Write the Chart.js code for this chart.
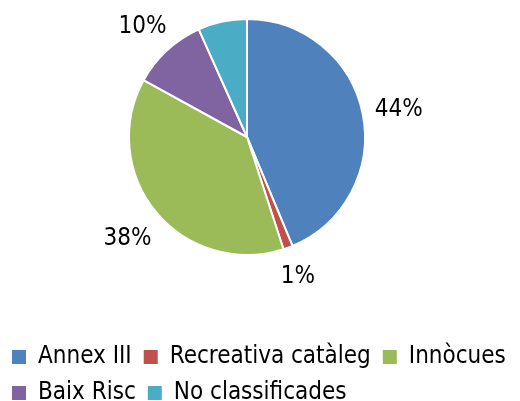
<!DOCTYPE html>
<html>
<head>
<meta charset="utf-8">
<script src="https://cdn.jsdelivr.net/npm/chart.js@4.4.1/dist/chart.umd.min.js"></script>
<style>
  html, body { margin: 0; padding: 0; background: #fff; }
  #wrap { width: 520px; height: 401px; }
</style>
</head>
<body>
<div id="wrap"><canvas id="chart"></canvas></div>
<script>
// categories and shares (percent)
const categories = ['Annex III', 'Recreativa catàleg', 'Innòcues', 'Baix Risc', 'No classificades'];
const shares = [43.7, 1.3, 38.0, 10.3, 6.7];
const sliceLabels = ['44%', '1%', '38%', '10%', ''];
const colors = ['#4F81BD', '#C0504D', '#9BBB59', '#8064A2', '#4BACC6'];

const FONT = 'DejaVu Sans Condensed';

// draws percentage labels just outside each slice
const outsideLabels = {
    id: 'outsideLabels',
    afterDatasetsDraw(chart) {
        const ctx = chart.ctx;
        const meta = chart.getDatasetMeta(0);
        ctx.save();
        ctx.font = `24px "${FONT}"`;
        ctx.fillStyle = '#000';
        ctx.textAlign = 'center';
        ctx.textBaseline = 'middle';
        meta.data.forEach((arc, i) => {
            const txt = sliceLabels[i];
            if (!txt) return;
            const mid = (arc.startAngle + arc.endAngle) / 2;
            const dx = Math.cos(mid), dy = Math.sin(mid);
            const halfW = ctx.measureText(txt).width / 2;
            const halfH = 12;
            const dist = arc.outerRadius + 11 + halfW * Math.abs(dx) + halfH * Math.abs(dy);
            ctx.fillText(txt, arc.x + dx * dist, arc.y + dy * dist + 3);
        });
        ctx.restore();
    }
};

// pie sits in its own box above the legend, a bit left of centre
const placePie = {
    id: 'placePie',
    afterLayout(chart) {
        const ca = chart.chartArea;
        ca.top = 18;
        ca.bottom = 256;
        ca.left = 0;
        ca.right = 494;
        ca.width = ca.right - ca.left;
        ca.height = ca.bottom - ca.top;
    }
};

new Chart(document.getElementById('chart'), {
    type: 'pie',
    data: {
        labels: categories,
        datasets: [{
            data: shares,
            backgroundColor: colors,
            borderColor: '#fff',
            borderWidth: 2
        }]
    },
    options: {
        responsive: true,
        maintainAspectRatio: false,
        animation: false,
        layout: { padding: { top: 0, bottom: -14, left: 0, right: 0 } },
        plugins: {
            tooltip: { enabled: false },
            legend: {
                position: 'bottom',
                align: 'start',
                labels: {
                    boxWidth: 14,
                    boxHeight: 14,
                    padding: 12,
                    color: '#000',
                    font: { family: FONT, size: 24 },
                    generateLabels(chart) {
                        const items = Chart.overrides.pie.plugins.legend.labels.generateLabels(chart);
                        items.forEach(it => { it.lineWidth = 0; });
                        return items;
                    }
                }
            }
        }
    },
    plugins: [outsideLabels, placePie]
});
</script>
</body>
</html>
